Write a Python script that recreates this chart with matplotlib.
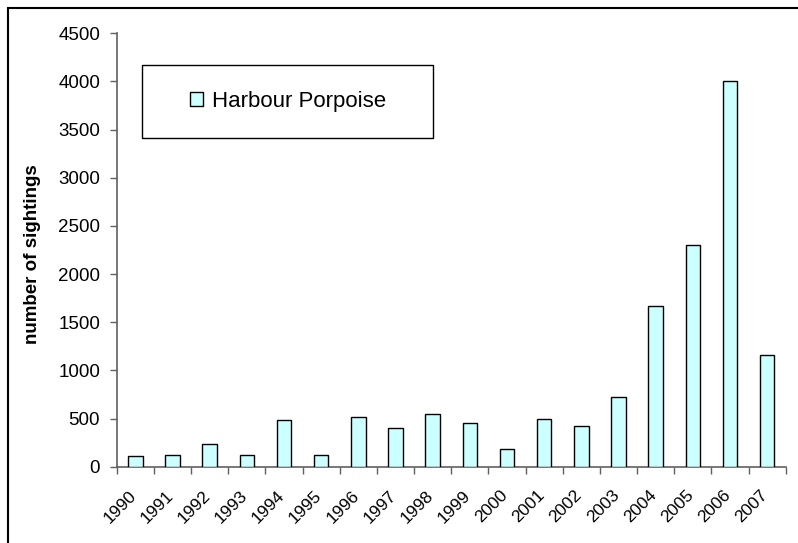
import matplotlib
matplotlib.use('Agg')
import matplotlib.pyplot as plt
import matplotlib.patches as mpatches
import numpy as np

years = [str(y) for y in range(1990, 2008)]
sightings = [110, 125, 240, 125, 490, 125, 515, 400, 545,
             450, 185, 500, 425, 725, 1670, 2300, 4000, 1160]

plt.rcParams['font.family'] = ['Liberation Sans', 'DejaVu Sans']

fig = plt.figure(figsize=(7.98, 5.43), dpi=100)
ax = fig.add_axes([0.1462, 0.1405, 0.8384, 0.7982])

x = np.arange(len(years))
ax.bar(x, sightings, width=0.39, color='#CCFFFF', edgecolor='black',
       linewidth=1.0, label='Harbour Porpoise', zorder=3)

ax.set_xlim(-0.5, len(years) - 0.5)
ax.set_ylim(0, 4500)
ax.set_yticks(np.arange(0, 4501, 500))
ax.tick_params(axis='y', labelsize=13.5, length=5, width=1, color='#606060', pad=7)

# ticks on category boundaries, labels slightly left of the bar centres
ax.set_xticks(np.arange(-0.5, len(years)), labels=[])
ax.set_xticks(x - 0.19, labels=years, minor=True)
ax.tick_params(axis='x', which='major', length=5, width=1, color='#606060')
ax.tick_params(axis='x', which='minor', length=0, labelsize=12.5, pad=15)
for lab in ax.get_xticklabels(minor=True):
    lab.set_rotation(45)
    lab.set_ha('right')
    lab.set_rotation_mode('anchor')

for s in ['top', 'right']:
    ax.spines[s].set_visible(False)
for s in ['left', 'bottom']:
    ax.spines[s].set_color('#606060')
    ax.spines[s].set_linewidth(1.2)

ax.set_ylabel('number of sightings', fontsize=13.5, fontweight='bold')
ax.yaxis.set_label_coords(-0.113, 0.49)

# legend box
box = (0.0383, 0.7577, 0.435, 0.1685)
ax.add_patch(mpatches.Rectangle(box[:2], box[2], box[3], transform=ax.transAxes,
                                fill=True, facecolor='white', edgecolor='black',
                                linewidth=1.0, zorder=4))
leg = ax.legend(loc='center', bbox_to_anchor=(box[0] + box[2] / 2, box[1] + box[3] / 2),
                fontsize=16, frameon=False, handlelength=0.59, handleheight=0.59,
                handletextpad=0.4, borderaxespad=0)
leg.set_zorder(5)

# outer chart border
fig.patches.append(mpatches.Rectangle((8 / 798, -0.05), 1.0, 1 - 8 / 543 + 0.05,
                                      transform=fig.transFigure, fill=False,
                                      edgecolor='black', linewidth=1.5))

fig.savefig('out.png', dpi=100)
